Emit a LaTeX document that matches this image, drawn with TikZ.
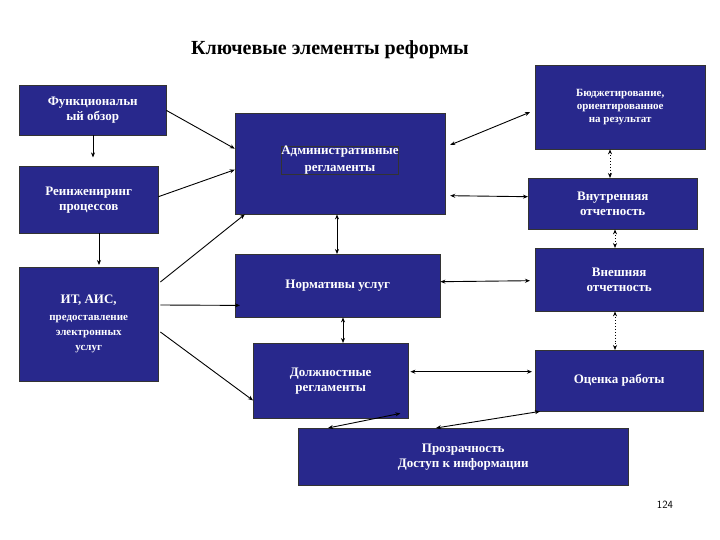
\documentclass[tikz,border=0pt]{standalone}
\usepackage{fontspec}
\setmainfont{Liberation Serif}
\usetikzlibrary{calc,arrows.meta}
\definecolor{boxblue}{RGB}{40,40,140}
\begin{document}
\begin{tikzpicture}[x=1pt,y=-1pt,
  bx/.style={draw=black!80,fill=boxblue,text=white,font=\bfseries\fontsize{13}{15}\selectfont,align=center,inner sep=0pt,anchor=north west},
  ar/.style={-{Stealth[length=5pt,width=4pt]},line width=0.9pt},
  dar/.style={{Stealth[length=5pt,width=4pt]}-{Stealth[length=5pt,width=4pt]},line width=0.9pt},
  dot/.style={dar,dotted}]
\useasboundingbox (0,0) rectangle (720,540);
\node[font=\bfseries\fontsize{20}{22}\selectfont] (title) at (330,50) {Ключевые элементы реформы};
\node[bx,minimum width=147,minimum height=50] (fun) at (19,85) {Функциональн\\ый обзор};
\node[bx,minimum width=139,minimum height=67] (rei) at (19,166) {Реинжениринг\\процессов};
\node[bx,minimum width=139,minimum height=114] (it) at (19,267) {ИТ, АИС,\\[2pt]{\fontsize{11}{13}\selectfont предоставление}\\{\fontsize{11}{13}\selectfont электронных}\\{\fontsize{11}{13}\selectfont услуг}};
\node[bx,minimum width=210,minimum height=101,anchor=north] (adm) at (340,113) {};
\node[bx,font=\bfseries\fontsize{13}{17}\selectfont,anchor=center] (admt) at (340,160) {Административные\\регламенты};
\node[bx,minimum width=205,minimum height=63] (nor) at (235,254) {Нормативы услуг};
\node[bx,minimum width=155,minimum height=75] (dol) at (253,343) {Должностные\\регламенты};
\node[bx,minimum width=170,minimum height=84,font=\bfseries\fontsize{11}{13}\selectfont] (bud) at (535,65) {Бюджетирование,\\ориентированное\\на результат};
\node[bx,minimum width=169,minimum height=51] (vnu) at (528,178) {Внутренняя\\отчетность};
\node[bx,minimum width=168,minimum height=63] (vne) at (535,248) {Внешняя\\отчетность};
\node[bx,minimum width=168,minimum height=61] (oce) at (535,350) {Оценка работы};
\node[bx,minimum width=330,minimum height=57] (pro) at (298,428) {Прозрачность\\Доступ к информации};
\node[font=\sffamily\fontsize{11}{13}\selectfont] (num) at (665,505) {124};
% left arrows
\draw[ar,line width=0.6pt] ($(fun.south west)+(74,0)$) -- ++(0,22);
\draw[ar] ($(fun.south east)+(0,-25)$) -- ($(adm.west)+(0,-15)$);
\draw[ar] ($(rei.east)+(0,-3)$) -- ($(adm.west)+(0,6)$);
\draw[ar] ($(rei.south west)+(80,0)$) -- ($(it.north west)+(80,-2)$);
\draw[ar] ($(it.north east)+(2,15)$) -- ($(adm.south west)+(10,0)$);
\draw[ar] ($(it.north east)+(2,38)$) -- ($(nor.south west)+(5,-12)$);
\draw[ar] ($(it.north east)+(2,65)$) -- ($(dol.south west)+(0,-18)$);
% centre vertical
\draw[dar] ($(adm.south)+(-3,0)$) -- ($(nor.north west)+(102,0)$);
\draw[dar] ($(nor.south west)+(108,0)$) -- ($(dol.north west)+(90,0)$);
% horizontal to right
\draw[dar] ($(adm.north east)+(5,32)$) -- ($(bud.west)+(-5,5)$);
\draw[dar] ($(adm.east)+(5,32)$) -- ($(vnu.west)+(0,-7)$);
\draw[dar] ($(nor.east)+(0,-4)$) -- ($(vne.west)+(-5,1)$);
\draw[dar] ($(dol.east)+(2,-9)$) -- ($(oce.west)+(-3,-9)$);
% dotted right column
\draw[dot] ($(bud.south west)+(75,0)$) -- ($(vnu.north west)+(82,0)$);
\draw[dot] ($(vnu.south west)+(87,0)$) -- ($(vne.north west)+(80,0)$);
\draw[dot] ($(vne.south west)+(80,0)$) -- ($(oce.north west)+(80,0)$);
% bottom
\draw[dar] ($(dol.south east)+(-8,-5)$) -- ($(pro.north west)+(30,0)$);
\draw[dar] ($(oce.south west)+(5,0)$) -- ($(pro.north west)+(138,0)$);
\end{tikzpicture}
\end{document}
